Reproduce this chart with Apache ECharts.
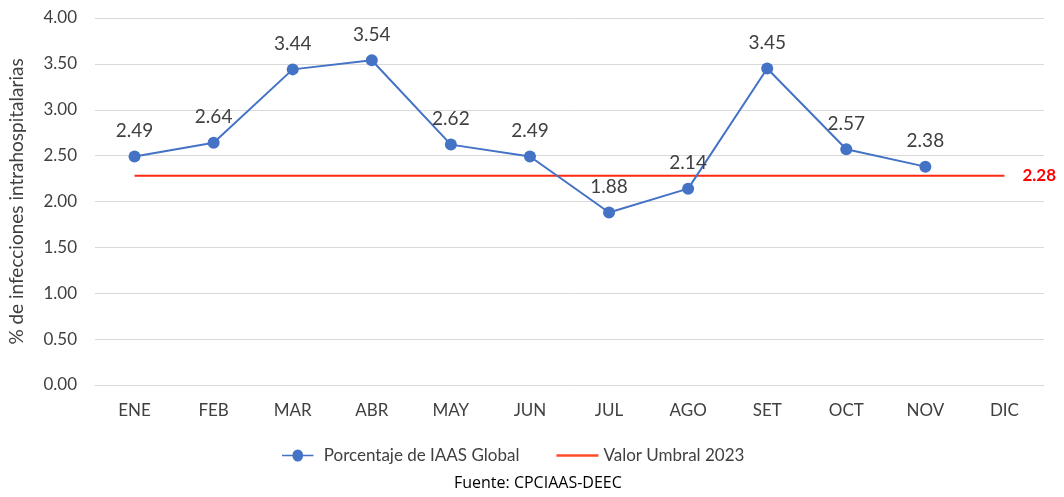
<!DOCTYPE html>
<html><head><meta charset="utf-8">
<script src="https://cdn.jsdelivr.net/npm/echarts@6/dist/echarts.min.js"></script>
<style>html,body{margin:0;padding:0;background:#fff}#c{width:1064px;height:497px}</style>
</head><body><div id="c"></div>
<script>
var categories = ['ENE','FEB','MAR','ABR','MAY','JUN','JUL','AGO','SET','OCT','NOV','DIC'];
var iaasValues = [2.49, 2.64, 3.44, 3.54, 2.62, 2.49, 1.88, 2.14, 3.45, 2.57, 2.38, null];
var umbralValues = [2.28, 2.28, 2.28, 2.28, 2.28, 2.28, 2.28, 2.28, 2.28, 2.28, 2.28, 2.28];
var yTicks = {min: 0, max: 4, interval: 0.5};
var FONT = 'Lato, "Open Sans", sans-serif';
var TXT = '#404040';
var chart = echarts.init(document.getElementById('c'));
chart.setOption({
  animation: false,
  grid: {left: 95, right: 20, top: 18, bottom: 112, containLabel: false, outerBoundsMode: 'none'},
  legend: {
    top: 442, left: 277, itemGap: 37, itemWidth: 42, itemHeight: 12,
    textStyle: {fontFamily: FONT, fontSize: 17, color: TXT},
    data: [
      {name: 'Porcentaje de IAAS Global', icon: 'path://M0,5 L14,5 A6,6 0 1 1 28,5 L42,5 L42,7 L28,7 A6,6 0 1 1 14,7 L0,7 Z'},
      {name: 'Valor Umbral 2023', icon: 'path://M0,0 L42,0 L42,2.5 L0,2.5 Z'}
    ]
  },
  graphic: [{type: 'text', left: 454, top: 475, style: {text: 'Fuente: CPCIAAS-DEEC', font: '16px "Open Sans", sans-serif', fill: '#000'}}],
  xAxis: {
    type: 'category', data: categories, boundaryGap: true,
    axisLine: {show: true, lineStyle: {color: '#d9d9d9', width: 1}},
    axisTick: {show: false},
    axisLabel: {fontFamily: FONT, fontSize: 17, color: TXT, margin: 17}
  },
  yAxis: {
    type: 'value', min: yTicks.min, max: yTicks.max, interval: yTicks.interval,
    name: '% de infecciones intrahospitalarias', nameLocation: 'middle', nameGap: 69,
    nameTextStyle: {fontFamily: FONT, fontSize: 19, color: TXT},
    axisLine: {show: false}, axisTick: {show: false},
    splitLine: {lineStyle: {color: '#d9d9d9', width: 1}},
    axisLabel: {fontFamily: FONT, fontSize: 17, color: TXT, margin: 18, formatter: function(v){return v.toFixed(2);}}
  },
  series: [
    {
      name: 'Valor Umbral 2023', type: 'line', data: umbralValues, symbol: 'none',
      lineStyle: {color: '#ff2a12', width: 2}, itemStyle: {color: '#ff4b2b'},
      z: 1,
      endLabel: {show: true, formatter: function(p){return p.value.toFixed(2);}, color: '#ff0000', fontWeight: 'bold', fontFamily: FONT, fontSize: 17, distance: 18}
    },
    {
      name: 'Porcentaje de IAAS Global', type: 'line', data: iaasValues,
      symbol: 'circle', symbolSize: 12,
      lineStyle: {color: '#4472c4', width: 2}, itemStyle: {color: '#4472c4'},
      z: 3,
      label: {show: true, position: 'top', distance: 10, fontFamily: FONT, fontSize: 19, color: TXT, formatter: function(p){return p.value.toFixed(2);}}
    }
  ]
});
</script></body></html>
